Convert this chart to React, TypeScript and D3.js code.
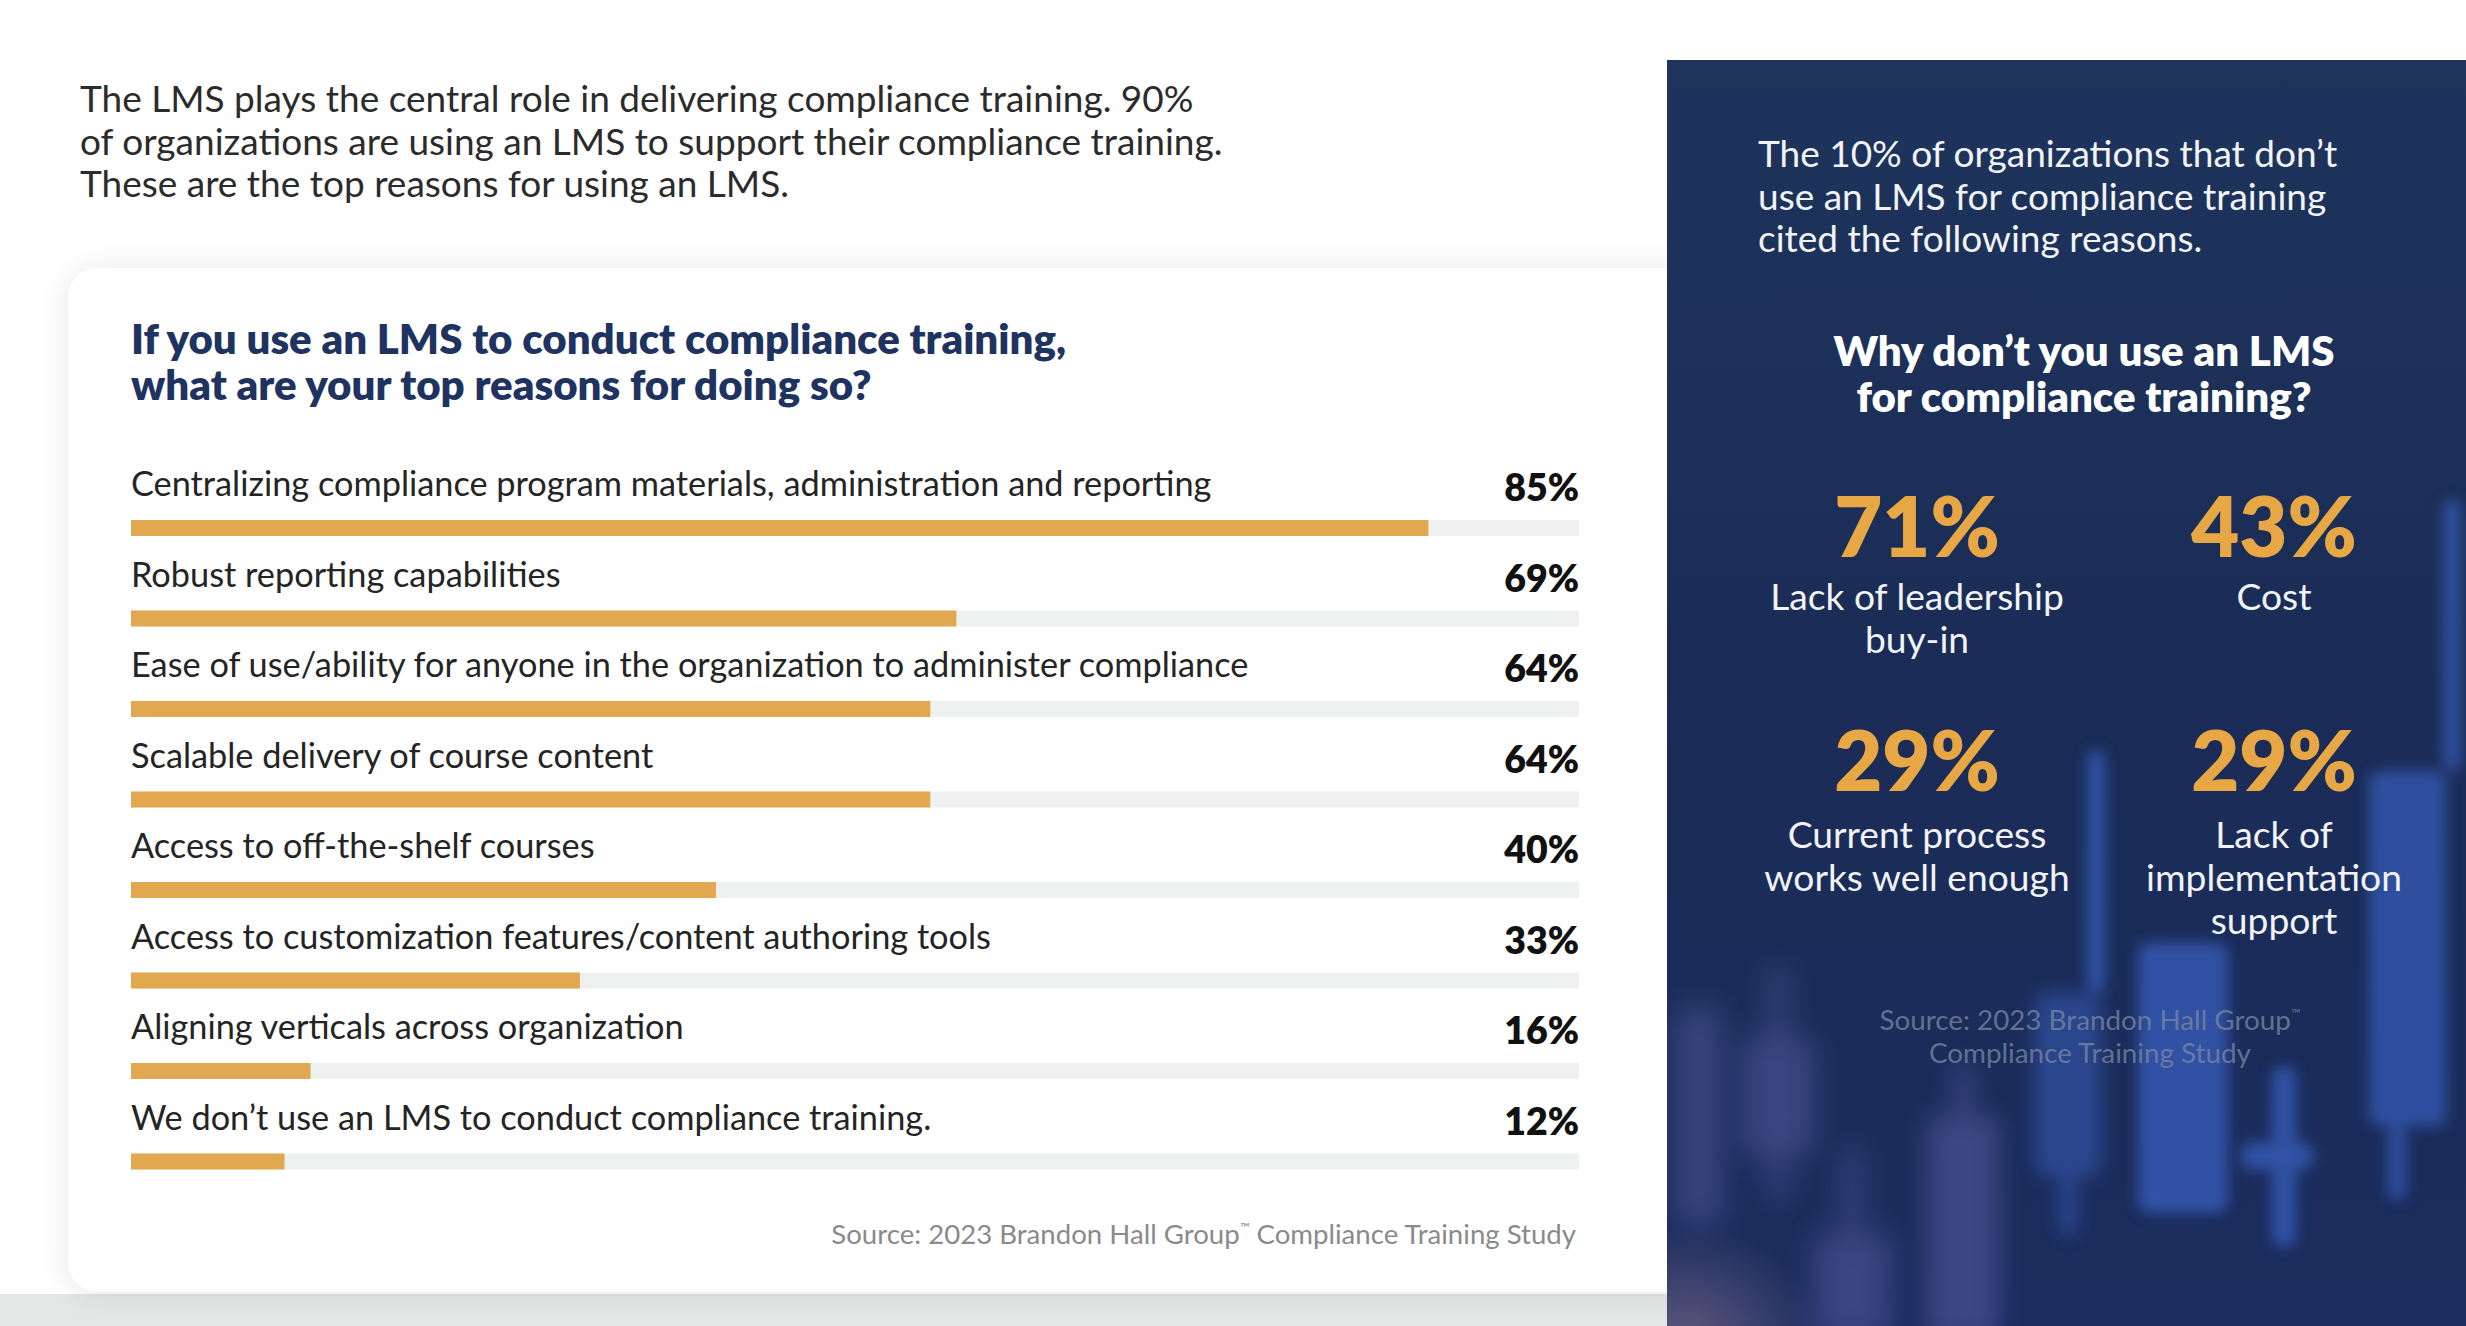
import React from "react";
import * as d3 from "d3";

// ---------- data ----------
const categories: string[] = [
  "Centralizing compliance program materials, administration and reporting",
  "Robust reporting capabilities",
  "Ease of use/ability for anyone in the organization to administer compliance",
  "Scalable delivery of course content",
  "Access to off-the-shelf courses",
  "Access to customization features/content authoring tools",
  "Aligning verticals across organization",
  "We don’t use an LMS to conduct compliance training.",
];
const values: number[] = [85, 69, 64, 64, 40, 33, 16, 12];
// bar length as drawn in the source, in % of the grey track
const barFill: number[] = [89.6, 57.0, 55.2, 55.2, 40.4, 31.0, 12.4, 10.6];

const introLeft: string[] = [
  "The LMS plays the central role in delivering compliance training. 90%",
  "of organizations are using an LMS to support their compliance training.",
  "These are the top reasons for using an LMS.",
];
const cardTitle: string[] = [
  "If you use an LMS to conduct compliance training,",
  "what are your top reasons for doing so?",
];
const introRight: string[] = [
  "The 10% of organizations that don’t",
  "use an LMS for compliance training",
  "cited the following reasons.",
];
const panelTitle: string[] = ["Why don’t you use an LMS", "for compliance training?"];
const reasonValues: number[] = [71, 43, 29, 29];
const reasonLabels: string[][] = [
  ["Lack of leadership", "buy-in"],
  ["Cost"],
  ["Current process", "works well enough"],
  ["Lack of", "implementation", "support"],
];

// decorative blurred candlesticks in the panel background
const backdropCandles = [
  { x: 2369, y0: 771, y1: 1126, w: 77, wx: 2452, wy0: 500, wy1: 771, lx: 2397, ly1: 1200, o: 0.6, b: 7 },
  { x: 2138, y0: 943, y1: 1213, w: 90, wx: 2096, wy0: 750, wy1: 993, lx: 0, ly1: 0, o: 0.65, b: 7 },
  { x: 2035, y0: 993, y1: 1176, w: 66, wx: 2068, wy0: 993, wy1: 1236, lx: 0, ly1: 0, o: 0.45, b: 9 },
  { x: 1675, y0: 1007, y1: 1226, w: 47, wx: 0, wy0: 0, wy1: 0, lx: 0, ly1: 0, o: 0.35, b: 14 },
  { x: 1742, y0: 1037, y1: 1156, w: 72, wx: 1778, wy0: 967, wy1: 1200, lx: 0, ly1: 0, o: 0.38, b: 14 },
  { x: 1927, y0: 1116, y1: 1340, w: 72, wx: 1963, wy0: 1063, wy1: 1116, lx: 0, ly1: 0, o: 0.4, b: 12 },
  { x: 1814, y0: 1233, y1: 1340, w: 77, wx: 1852, wy0: 1150, wy1: 1233, lx: 0, ly1: 0, o: 0.38, b: 14 },
];

const W = 2466;
const H = 1326;
const FONT = "Lato, 'Open Sans', sans-serif";

export default function App() {
  const trackX0 = 131;
  const trackX1 = 1579;
  const x = d3.scaleLinear().domain([0, 100]).range([trackX0, trackX1]);
  const y = d3
    .scaleBand<string>()
    .domain(categories)
    .range([450, 450 + categories.length * 90.5])
    .paddingInner(0);
  const barH = 16;
  const fmt = (v: number) => `${d3.format("d")(v)}%`;

  const colX = d3.scaleOrdinal<number, number>().domain([0, 1]).range([1917, 2274]);
  const rowY = d3.scaleOrdinal<number, number>().domain([0, 1]).range([557, 791]);

  return (
    <svg
      width={W}
      height={H}
      viewBox={`0 0 ${W} ${H}`}
      style={{ position: "absolute", left: 0, top: 0, display: "block" }}
      fontFamily={FONT}
    >
      <defs>
        <filter id="cardShadow" x="-10%" y="-10%" width="120%" height="125%">
          <feDropShadow dx="0" dy="2" stdDeviation="14" floodColor="#000" floodOpacity="0.10" />
        </filter>
        <linearGradient id="panelBg" x1="0" y1="0" x2="0" y2="1">
          <stop offset="0" stopColor="#1e345b" />
          <stop offset="0.5" stopColor="#1a2c56" />
          <stop offset="1" stopColor="#1b2c5e" />
        </linearGradient>
        <radialGradient id="glow" cx="0.05" cy="1" r="0.4">
          <stop offset="0" stopColor="#7a6a8a" stopOpacity="0.7" />
          <stop offset="1" stopColor="#7a6a8a" stopOpacity="0" />
        </radialGradient>
        {[7, 9, 12, 14].map((b) => (
          <filter key={b} id={`blur${b}`} x="-80%" y="-50%" width="260%" height="200%">
            <feGaussianBlur stdDeviation={b} />
          </filter>
        ))}
        <clipPath id="panelClip">
          <rect x={1667} y={60} width={W - 1667} height={H - 60} />
        </clipPath>
      </defs>

      <rect width={W} height={H} fill="#ffffff" />
      <rect x={0} y={1294} width={1667} height={H - 1294} fill="#e5e6e6" />

      {/* intro text */}
      {introLeft.map((t, i) => (
        <text key={i} x={80} y={112 + i * 42.5} fontSize={37} fill="#2b2b2b">
          {t}
        </text>
      ))}

      {/* card */}
      <rect x={68} y={268} width={1680} height={1024} rx={30} fill="#ffffff" filter="url(#cardShadow)" />

      {cardTitle.map((t, i) => (
        <text key={i} x={131} y={354 + i * 46} fontSize={42} fontWeight={800} fill="#1f3360">
          {t}
        </text>
      ))}

      {categories.map((c, i) => {
        const top = (y(c) as number) + 70;
        return (
          <g key={c}>
            <text x={trackX0} y={top - 24} fontSize={34.3} fill="#242424">
              {c}
            </text>
            <text x={trackX1} y={top - 19} fontSize={37.5} fontWeight={800} fill="#111" textAnchor="end">
              {fmt(values[i])}
            </text>
            <rect x={trackX0} y={top} width={x(100) - trackX0} height={barH} fill="#eff0f0" />
            <rect x={trackX0} y={top} width={x(barFill[i]) - trackX0} height={barH} fill="#e2a84f" />
          </g>
        );
      })}

      <text x={1576} y={1244} fontSize={27.6} fill="#8a8a8a" textAnchor="end">
        Source: 2023 Brandon Hall Group
        <tspan fontSize={13} dy={-12}>™</tspan>
        <tspan dy={12}> Compliance Training Study</tspan>
      </text>

      {/* right panel */}
      <rect x={1667} y={60} width={W - 1667} height={H - 60} fill="url(#panelBg)" />
      <g clipPath="url(#panelClip)">
        <rect x={1667} y={1050} width={350} height={290} fill="url(#glow)" />
        {backdropCandles.map((d, i) => (
          <g key={i} filter={`url(#blur${d.b})`} opacity={d.o} fill={i < 3 ? "#3e66cc" : "#6a70b8"}>
            <rect x={d.x} y={d.y0} width={d.w} height={d.y1 - d.y0} rx={10} />
            {d.wx > 0 && <rect x={d.wx - 9} y={d.wy0} width={18} height={d.wy1 - d.wy0} rx={8} />}
            {d.lx > 0 && <rect x={d.lx - 9} y={d.y1} width={18} height={d.ly1 - d.y1} rx={8} />}
          </g>
        ))}
        <g filter="url(#blur7)" opacity={0.65} fill="#3e66cc">
          <rect x={2272} y={1067} width={24} height={180} rx={10} />
          <rect x={2241} y={1142} width={72} height={28} rx={12} />
        </g>
      </g>

      {introRight.map((t, i) => (
        <text key={i} x={1758} y={167 + i * 42.5} fontSize={37} fill="#f2f3f6">
          {t}
        </text>
      ))}
      {panelTitle.map((t, i) => (
        <text key={i} x={2084} y={366 + i * 46} fontSize={42} fontWeight={800} fill="#ffffff" textAnchor="middle">
          {t}
        </text>
      ))}

      {reasonValues.map((v, i) => {
        const cx = colX(i % 2);
        const by = rowY(Math.floor(i / 2));
        const gap = i < 2 ? 53 : 57;
        return (
          <g key={i}>
            <text x={cx} y={by} fontSize={83} fontWeight={800} fill="#e8a745" textAnchor="middle">
              {fmt(v)}
            </text>
            {reasonLabels[i].map((l, j) => (
              <text key={j} x={cx} y={by + gap + j * 43} fontSize={37.2} fill="#f2f3f6" textAnchor="middle">
                {l}
              </text>
            ))}
          </g>
        );
      })}

      <text x={2090} y={1030} fontSize={27.8} fill="#7b88a3" fillOpacity={0.75} textAnchor="middle">
        Source: 2023 Brandon Hall Group
        <tspan fontSize={13} dy={-12}>™</tspan>
      </text>
      <text x={2090} y={1063} fontSize={27.8} fill="#7b88a3" fillOpacity={0.75} textAnchor="middle">
        Compliance Training Study
      </text>
    </svg>
  );
}
